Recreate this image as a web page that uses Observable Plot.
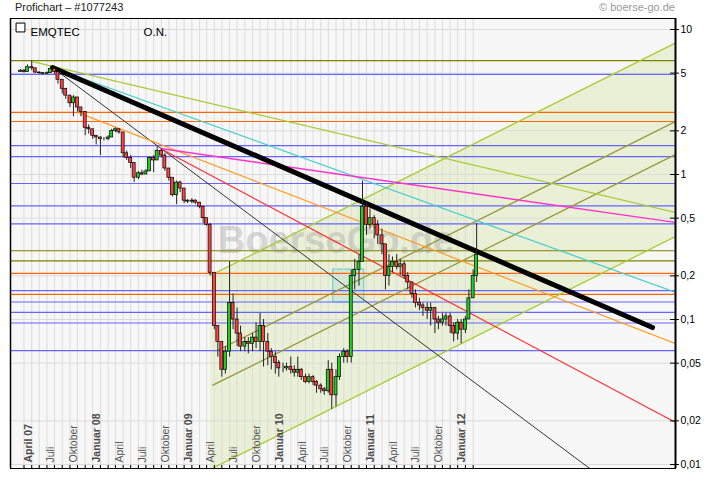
<!DOCTYPE html>
<html><head><meta charset="utf-8">
<script src="https://cdn.jsdelivr.net/npm/d3@7"></script>
<script src="https://cdn.jsdelivr.net/npm/@observablehq/plot@0.6"></script>
<style>
body{margin:0;background:#fff;}
#wrap{position:relative;width:720px;height:481px;font-family:"Liberation Sans",Arial,sans-serif;}
#wrap svg{position:absolute;left:0;top:0;}
#title{position:absolute;left:15px;top:0px;font-size:11px;line-height:14px;color:#222;}
#copy{position:absolute;left:599px;top:0px;font-size:11px;line-height:14px;color:#999;}
</style></head>
<body><div id="wrap"></div>
<script>
// ---- price data (half-monthly candles, Feb 2007 - Feb 2012) ----
const candleCloses = [5.2,5.1,5.5,5.4,5.05,5.0,4.95,5.0,5.35,5.1,
 4.5,3.9,3.5,3.1,3.4,2.9,2.7,2.1,2.05,1.85,
 1.8,1.75,1.75,1.8,2.0,2.05,1.95,1.4,1.3,1.2,
 0.95,1.02,1.0,1.05,1.3,1.25,1.45,1.35,1.1,0.95,
 0.72,0.88,0.8,0.66,0.65,0.66,0.64,0.6,0.5,0.45,
 0.21,0.09,0.07,0.045,0.06,0.13,0.1,0.08,0.065,0.07,
 0.068,0.075,0.07,0.09,0.07,0.06,0.055,0.05,0.046,0.046,
 0.047,0.045,0.043,0.045,0.04,0.037,0.04,0.037,0.035,0.033,
 0.032,0.045,0.03,0.04,0.055,0.06,0.055,0.2,0.22,0.25,
 0.6,0.45,0.5,0.45,0.38,0.33,0.2,0.23,0.25,0.23,
 0.24,0.2,0.18,0.15,0.13,0.125,0.12,0.115,0.12,0.1,
 0.095,0.1,0.105,0.09,0.08,0.095,0.085,0.1,0.14,0.2,
 0.28];
const candleHighs = [5.3,5.3,5.7,6.1,5.3,5.1,5.05,5.1,5.5,5.4,
 5.0,4.4,3.9,3.5,3.5,3.3,2.9,2.5,2.2,2.05,
 1.85,1.82,1.8,1.85,2.05,2.1,2.05,1.95,1.45,1.35,
 1.15,1.05,1.07,1.08,1.32,1.35,1.55,1.5,1.4,1.1,
 0.95,0.9,0.9,0.8,0.67,0.68,0.67,0.64,0.6,0.5,
 0.46,0.21,0.09,0.07,0.065,0.25,0.15,0.12,0.09,0.075,
 0.075,0.08,0.095,0.11,0.1,0.08,0.063,0.06,0.052,0.05,
 0.05,0.055,0.048,0.055,0.046,0.042,0.042,0.041,0.038,0.036,
 0.034,0.052,0.05,0.045,0.058,0.063,0.062,0.22,0.26,0.28,
 0.9,0.65,0.58,0.52,0.48,0.42,0.32,0.28,0.27,0.28,
 0.26,0.25,0.21,0.18,0.16,0.14,0.13,0.13,0.13,0.12,
 0.105,0.11,0.11,0.11,0.095,0.1,0.1,0.105,0.16,0.22,
 0.46];
const candleLows = [5.1,5.0,5.1,5.2,4.95,4.9,4.85,4.9,5.0,4.9,
 4.2,3.6,3.3,2.9,2.5,2.7,2.5,1.85,1.9,1.75,
 1.6,1.35,1.7,1.72,1.8,1.95,1.9,1.3,1.25,1.1,
 0.88,0.92,0.98,1.0,1.05,1.03,1.3,1.3,1.05,0.9,
 0.7,0.62,0.75,0.63,0.63,0.63,0.62,0.58,0.46,0.44,
 0.2,0.085,0.055,0.04,0.042,0.055,0.085,0.065,0.06,0.06,
 0.058,0.06,0.063,0.06,0.047,0.048,0.045,0.042,0.04,0.043,
 0.044,0.042,0.04,0.04,0.038,0.036,0.036,0.035,0.031,0.031,
 0.03,0.031,0.024,0.025,0.038,0.05,0.05,0.05,0.16,0.17,
 0.25,0.38,0.42,0.36,0.33,0.28,0.16,0.17,0.21,0.22,
 0.2,0.19,0.16,0.14,0.12,0.115,0.105,0.1,0.09,0.08,
 0.085,0.09,0.09,0.08,0.07,0.072,0.068,0.08,0.1,0.14,
 0.18];
const firstOpen = 5.1;

// ---- descending trend lines ----
const trendIds = ["A","B","C","D","E","F","G"];
const trendStartDates = ["2007-04-04","2007-06-23","2007-06-23","2007-06-23","2007-10-01","2008-08-28","2008-08-28"];
const trendStartValues = [6.0, 5.47, 5.47, 5.47, 2.68, 1.51, 1.51];
const trendEndDates = ["2014-04-21","2014-04-21","2014-01-19","2013-05-23","2014-04-21","2014-04-21","2014-04-21"];
const trendEndValues = [0.547, 0.154, 0.088, 0.0091, 0.0683, 0.0195, 0.467];

// ---- rising channel ----
const channelIds = ["unten","oben","innenOben","innenUnten"];
const channelStartDates = ["2009-03-16","2009-03-16","2009-04-13","2009-03-24"];
const channelStartValues = [0.00925, 0.201, 0.0611, 0.0351];
const channelEndDates = ["2014-04-21","2014-04-21","2014-04-21","2014-04-21"];
const channelEndValues = [0.374, 8.07, 2.32, 1.374];

// ---- horizontal levels ----
const oliveLevels = [6.11, 0.298, 0.254];
const blueLevels = [4.9, 1.58, 1.33, 0.867, 0.608, 0.457, 0.158, 0.132, 0.112, 0.0946, 0.061];
const orangeLevels = [2.68, 2.32, 0.208, 0.149];

// ---- marked box ----
const boxDates = ["2010-07-21","2010-11-22"];
const boxValues = [0.131, 0.221];

// ---- axis ticks / labels ----
const yTicks = [10, 5, 2, 1, 0.5, 0.2, 0.1, 0.05, 0.02, 0.01];
const xLabelDates = ["2007-04-01","2007-07-01","2007-10-01","2008-01-01","2008-04-01","2008-07-01","2008-10-01",
 "2009-01-01","2009-04-01","2009-07-01","2009-10-01","2010-01-01","2010-04-01","2010-07-01","2010-10-01",
 "2011-01-01","2011-04-01","2011-07-01","2011-10-01","2012-01-01"];
const xLabelTexts = ["April 07","Juli","Oktober","Januar 08","April","Juli","Oktober",
 "Januar 09","April","Juli","Oktober","Januar 10","April","Juli","Oktober",
 "Januar 11","April","Juli","Oktober","Januar 12"];

// ---- build tables ----
const candleDates = candleCloses.map((_, i) => i % 2 === 0
  ? new Date(Date.UTC(2007, 1 + i / 2, 15))
  : new Date(Date.UTC(2007, 1 + (i + 1) / 2, 1)));
const candles = candleCloses.map((c, i) => {
  const o = i === 0 ? firstOpen : candleCloses[i - 1];
  return {date: candleDates[i], open: o, close: c,
    high: Math.max(candleHighs[i], o, c), low: Math.min(candleLows[i], o, c)};
});
const up = candles.filter(d => d.close >= d.open);
const down = candles.filter(d => d.close < d.open);

const trends = trendIds.map((id, i) => ({id, x1: new Date(trendStartDates[i]), y1: trendStartValues[i],
  x2: new Date(trendEndDates[i]), y2: trendEndValues[i]}));
const channel = channelIds.map((id, i) => ({id, x1: new Date(channelStartDates[i]), y1: channelStartValues[i],
  x2: new Date(channelEndDates[i]), y2: channelEndValues[i]}));
const lo = channel[0], hi = channel[1];
const channelArea = [{x: lo.x1, y1: lo.y1, y2: hi.y1}, {x: lo.x2, y1: lo.y2, y2: hi.y2}];
const xLabels = xLabelDates.map((d, i) => ({date: new Date(d), text: xLabelTexts[i]}));
const boldLabels = xLabels.filter(d => /\d/.test(d.text));
const plainLabels = xLabels.filter(d => !/\d/.test(d.text));
const months = d3.utcMonth.range(new Date(Date.UTC(2007, 2, 1)), new Date(Date.UTC(2012, 1, 2)));

const trendStyle = {A: ["#a6cc33", 1.2], B: ["#44cccc", 1.2], C: ["#000000", 5], D: ["#333333", 1],
  E: ["#ff9a22", 1.2], F: ["#ff2a2a", 1.2], G: ["#ff33cc", 1.4]};
const chanStyle = {unten: "#a6cc33", oben: "#a6cc33", innenOben: "#99993a", innenUnten: "#99993a"};

const xDomain = [new Date(Date.UTC(2007, 0, 6)), new Date(Date.UTC(2014, 3, 21))];
const yDomain = [0.009384, 11.91];
const fmt = d => String(d).replace(".", ",");

const chart = Plot.plot({
  width: 720, height: 481,
  marginLeft: 10, marginRight: 45, marginTop: 18, marginBottom: 13,
  style: {fontFamily: "'Liberation Sans', Arial, sans-serif", background: "transparent"},
  x: {type: "utc", domain: xDomain, axis: null},
  y: {type: "log", domain: yDomain, axis: null},
  marks: [
    Plot.frame({fill: "#f7f7f7", stroke: null}),
    Plot.areaY(channelArea, {x: "x", y1: "y1", y2: "y2", fill: "#e9f0d6", clip: true}),
    Plot.rect([0], {x1: () => new Date(boxDates[0]), x2: () => new Date(boxDates[1]),
      y1: () => boxValues[0], y2: () => boxValues[1], fill: "#66cccc", fillOpacity: 0.18, stroke: "#55cccc", strokeWidth: 1}),
    Plot.ruleX(months, {stroke: "#dcdcdc", strokeWidth: 1}),
    Plot.ruleY(yTicks, {stroke: "#dcdcdc", strokeWidth: 1}),
    Plot.text(["BoerseGo.de"], {frameAnchor: "middle", dx: -7, dy: -3, fontSize: 38, fontWeight: "bold",
      fill: "#999", fillOpacity: 0.35}),
    Plot.ruleY(oliveLevels, {stroke: "#808000", strokeWidth: 1.2}),
    Plot.ruleY(blueLevels, {stroke: "#6666ff", strokeWidth: 1.2}),
    Plot.ruleY(orangeLevels, {stroke: "#ff6600", strokeWidth: 1.2}),
    Plot.link(channel, {x1: "x1", y1: "y1", x2: "x2", y2: "y2", stroke: d => chanStyle[d.id], strokeWidth: 1.3, clip: true}),
    Plot.link(trends.filter(d => d.id !== "C"), {x1: "x1", y1: "y1", x2: "x2", y2: "y2",
      stroke: d => trendStyle[d.id][0], strokeWidth: d => trendStyle[d.id][1], clip: true}),
    Plot.link(trends.filter(d => d.id === "C"), {x1: "x1", y1: "y1", x2: "x2", y2: "y2",
      stroke: "#000", strokeWidth: 5, strokeLinecap: "round", clip: true}),
    Plot.ruleX(candles, {x: "date", y1: "low", y2: "high", stroke: "#222", strokeWidth: 1}),
    Plot.rect(up, {x1: d => d3.utcDay.offset(d.date, -6), x2: d => d3.utcDay.offset(d.date, 6),
      y1: "open", y2: "close", fill: "#22cc22", stroke: "#000", strokeWidth: 0.7}),
    Plot.rect(down, {x1: d => d3.utcDay.offset(d.date, -6), x2: d => d3.utcDay.offset(d.date, 6),
      y1: "open", y2: "close", fill: "#ff4040", stroke: "#000", strokeWidth: 0.7}),
    Plot.text(boldLabels, {x: "date", frameAnchor: "bottom", rotate: -90, textAnchor: "start", dy: -6,
      text: "text", fontSize: 10.5, fontWeight: "bold", fill: "#4a4a4a"}),
    Plot.text(plainLabels, {x: "date", frameAnchor: "bottom", rotate: -90, textAnchor: "start", dy: -6,
      text: "text", fontSize: 10.5, fill: "#555"}),
    Plot.dot([0], {frameAnchor: "top-left", dx: 10, dy: 9, symbol: "square", r: 5, stroke: "#000", fill: "#fff", strokeWidth: 1}),
    Plot.text(["EMQTEC"], {frameAnchor: "top-left", dx: 20, dy: 9, textAnchor: "start", fontSize: 11.5, fill: "#000"}),
    Plot.text(["O.N."], {frameAnchor: "top-left", dx: 133, dy: 9, textAnchor: "start", fontSize: 11.5, fill: "#000"}),
    Plot.axisX(months, {anchor: "bottom", tickSize: 3, dy: -3, tickFormat: () => "", stroke: "#000"}),
    Plot.tickY(yTicks, {y: d => d, insetLeft: 660, insetRight: -4, stroke: "#000", strokeWidth: 1}),
    Plot.text(yTicks, {y: d => d, frameAnchor: "right", dx: 5, textAnchor: "start", text: fmt, fontSize: 10.5, fill: "#000"}),
    Plot.frame({stroke: "#000", strokeWidth: 1}),
    Plot.ruleX([xDomain[1]], {stroke: "#000", strokeWidth: 2}),
    Plot.ruleX([xDomain[0]], {stroke: "#000", strokeWidth: 1.5})
  ]
});
const wrap = document.getElementById("wrap");
wrap.appendChild(chart);
const t = document.createElement("div"); t.id = "title"; t.textContent = "Profichart – #1077243"; wrap.appendChild(t);
const c = document.createElement("div"); c.id = "copy"; c.textContent = "© boerse-go.de"; wrap.appendChild(c);
</script>
</body></html>
